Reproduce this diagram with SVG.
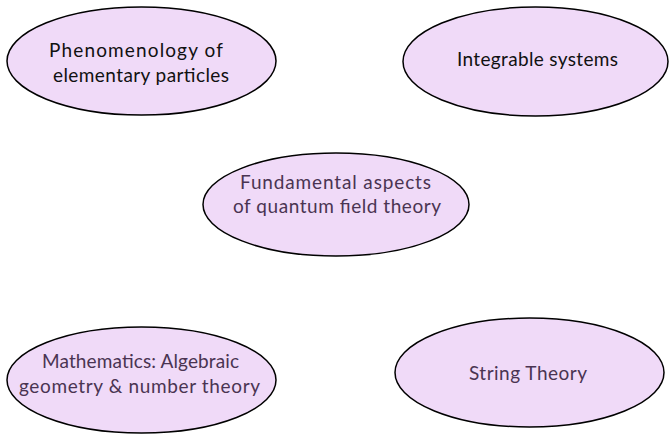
<svg xmlns="http://www.w3.org/2000/svg" width="669" height="434" viewBox="0 0 669 434">
<style>
.n{fill:#f0daf8;stroke:#000;stroke-width:1.5}
.t{font-family:Lato,"Open Sans",sans-serif;font-size:19px;text-anchor:middle}
.k{fill:#111}
.p{fill:#4a3452}
</style>
<rect width="669" height="434" fill="#fff"/>
<g id="connectors"></g>
<g id="phenomenology">
<ellipse class="n" cx="141.5" cy="61" rx="134.5" ry="54"/>
<text class="t k" x="136" y="57" textLength="174" lengthAdjust="spacing">Phenomenology of</text>
<text class="t k" x="141" y="82" textLength="176" lengthAdjust="spacing">elementary particles</text>
</g>
<g id="integrable">
<ellipse class="n" cx="535.5" cy="61.5" rx="132.5" ry="54.5"/>
<text class="t k" x="537.5" y="66" textLength="161" lengthAdjust="spacing">Integrable systems</text>
</g>
<g id="qft">
<ellipse class="n" cx="336" cy="204.5" rx="133" ry="51.5"/>
<text class="t p" x="335.5" y="189" textLength="191" lengthAdjust="spacing">Fundamental aspects</text>
<text class="t p" x="337" y="213" textLength="208" lengthAdjust="spacing">of quantum field theory</text>
</g>
<g id="mathematics">
<ellipse class="n" cx="141.5" cy="380" rx="134.5" ry="53"/>
<text class="t p" x="140.5" y="368" textLength="197" lengthAdjust="spacing">Mathematics: Algebraic</text>
<text class="t p" x="139.5" y="393" textLength="241" lengthAdjust="spacing">geometry &amp; number theory</text>
</g>
<g id="string">
<ellipse class="n" cx="529.5" cy="372.5" rx="134.5" ry="54.5"/>
<text class="t p" x="528" y="380" textLength="118" lengthAdjust="spacing">String Theory</text>
</g>
</svg>
